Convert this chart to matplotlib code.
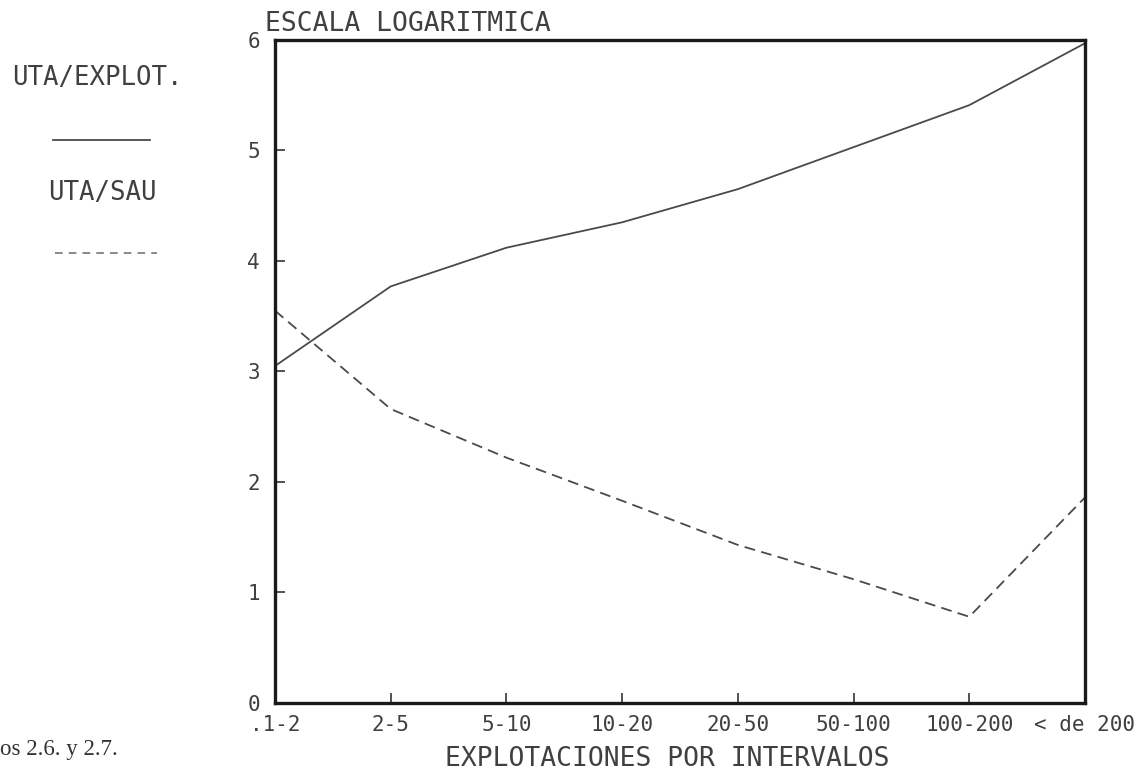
import matplotlib
matplotlib.use("Agg")
import matplotlib.pyplot as plt
from matplotlib.lines import Line2D

# intervalos de superficie (ha)
intervalos = ['.1-2', '2-5', '5-10', '10-20', '20-50', '50-100', '100-200', '< de 200']
# valores en escala logaritmica
uta_explot = [3.05, 3.77, 4.12, 4.35, 4.65, 5.03, 5.41, 5.97]
uta_sau = [3.55, 2.66, 2.22, 1.83, 1.43, 1.12, 0.78, 1.86]
yticks = [0, 1, 2, 3, 4, 5, 6]

plotter = 'DejaVu Sans Mono'
tinta = '#404040'

fig = plt.figure(figsize=(11.38, 7.73), dpi=100)
ax = fig.add_axes([0.2417, 0.0906, 0.7117, 0.8577])

x = range(len(intervalos))
ax.plot(x, uta_explot, color='#4a4a4a', lw=1.3, solid_capstyle='butt')
ax.plot(x, uta_sau, color='#4a4a4a', lw=1.3, dashes=(6, 3.5))

ax.set_xlim(0, len(intervalos) - 1)
ax.set_ylim(0, 6)
ax.set_xticks(list(x))
ax.set_xticklabels(intervalos)
ax.set_yticks(yticks)
ax.set_yticklabels([str(v) for v in yticks])

for s in ax.spines.values():
    s.set_linewidth(2.4)
    s.set_color('#1a1a1a')

ax.tick_params(direction='in', length=7, width=1.3, color='#444444',
               labelsize=15, labelcolor=tinta, top=False, right=False)
ax.tick_params(axis='x', pad=9)
ax.tick_params(axis='y', pad=11)
for lab in ax.get_xticklabels() + ax.get_yticklabels():
    lab.set_family(plotter)

# titulos
fig.text(265 / 1138, 1 - 24 / 773, 'ESCALA LOGARITMICA', family=plotter,
         fontsize=19, color=tinta, ha='left', va='center')
fig.text(667 / 1138, 1 - 759 / 773, 'EXPLOTACIONES POR INTERVALOS', family=plotter,
         fontsize=19, color=tinta, ha='center', va='center')

# leyenda a la izquierda
fig.text(97 / 1138, 1 - 78 / 773, 'UTA/EXPLOT.', family=plotter,
         fontsize=18.5, color=tinta, ha='center', va='center')
fig.add_artist(Line2D([53 / 1138, 150 / 1138], [1 - 140 / 773, 1 - 140 / 773],
                      color='#4a4a4a', lw=1.3))
fig.text(102 / 1138, 1 - 193 / 773, 'UTA/SAU', family=plotter,
         fontsize=18.5, color=tinta, ha='center', va='center')
fig.add_artist(Line2D([55 / 1138, 157 / 1138], [1 - 253 / 773, 1 - 253 / 773],
                      color='#6a6a6a', lw=1.1, dashes=(5, 4)))

# pie de pagina
fig.text(0, 1 - 750 / 773, 'os 2.6. y 2.7.', family='Liberation Serif',
         fontsize=16.5, color='#333333', ha='left', va='center')

fig.savefig('out.png', dpi=100)
